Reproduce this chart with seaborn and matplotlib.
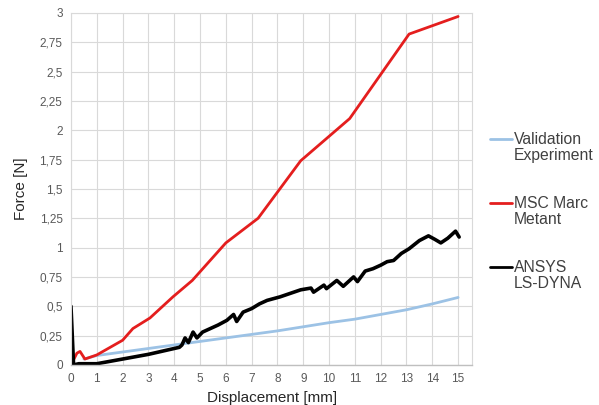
import pandas as pd
import matplotlib.pyplot as plt
import seaborn as sns
from matplotlib.legend_handler import HandlerLine2D

# Force-displacement curves
val_x = [0.5, 1, 2, 3, 4, 5, 6, 7, 8, 9, 10, 11, 12, 13, 14, 15]
val_y = [0.05, 0.08, 0.11, 0.14, 0.17, 0.2, 0.23, 0.26, 0.29, 0.325, 0.36, 0.39, 0.43, 0.47, 0.52, 0.575]

msc_x = [0, 0.23, 0.35, 0.54, 1.0, 2.0, 2.4, 3.06, 3.95, 4.7, 6.0, 7.25, 8.9, 10.8, 13.1, 15.0]
msc_y = [0, 0.1, 0.115, 0.05, 0.085, 0.21, 0.31, 0.4, 0.58, 0.72, 1.04, 1.25, 1.74, 2.1, 2.82, 2.97]

ansys_x = [0, 0.1, 0.3, 0.6, 1.0, 1.5, 2.0, 2.5, 3.0, 3.5, 4.0, 4.2, 4.3, 4.42, 4.55, 4.73,
           4.88, 5.1, 5.4, 5.7, 6.04, 6.3, 6.42, 6.67, 7.0, 7.3, 7.6, 8.1, 8.5, 8.9, 9.3,
           9.4, 9.8, 9.9, 10.3, 10.55, 10.95, 11.1, 11.4, 11.7, 12.0, 12.25, 12.5, 12.8,
           13.1, 13.5, 13.85, 14.1, 14.33, 14.6, 14.9, 15.04]
ansys_y = [0.5, 0.0, 0.01, 0.01, 0.01, 0.03, 0.05, 0.07, 0.09, 0.115, 0.14, 0.15, 0.17, 0.23,
           0.19, 0.28, 0.23, 0.28, 0.31, 0.34, 0.38, 0.43, 0.37, 0.45, 0.48, 0.52, 0.55, 0.58,
           0.61, 0.64, 0.655, 0.62, 0.68, 0.65, 0.72, 0.67, 0.75, 0.71, 0.8, 0.82, 0.85, 0.88,
           0.89, 0.95, 0.99, 1.06, 1.1, 1.07, 1.04, 1.08, 1.14, 1.09]

labels = ['Validation\nExperiment', 'MSC Marc\nMetant', 'ANSYS\nLS-DYNA']
colors = ['#9cc2e5', '#e41e1e', '#000000']
widths = [2.0, 2.0, 2.6]

x_ticks = list(range(0, 16))
y_ticks = [0, 0.25, 0.5, 0.75, 1, 1.25, 1.5, 1.75, 2, 2.25, 2.5, 2.75, 3]


# legend line next to the first line of a two-line label (Excel style)
class TopLine(HandlerLine2D):
    def create_artists(self, legend, orig_handle, xdescent, ydescent, width,
                       height, fontsize, trans):
        arts = super().create_artists(legend, orig_handle, xdescent, ydescent,
                                      width, height, fontsize, trans)
        for a in arts:
            a.set_ydata([y + 0.55 * fontsize for y in a.get_ydata()])
        return arts


df = pd.concat([
    pd.DataFrame({'x': val_x, 'y': val_y, 'series': labels[0]}),
    pd.DataFrame({'x': msc_x, 'y': msc_y, 'series': labels[1]}),
    pd.DataFrame({'x': ansys_x, 'y': ansys_y, 'series': labels[2]}),
])

sns.set_style('white')
plt.rcParams['font.family'] = ['Liberation Sans', 'DejaVu Sans']

fig = plt.figure(figsize=(5.99, 4.05), dpi=100)
ax = fig.add_axes([0.1185, 0.099, 0.67, 0.869])

sns.lineplot(data=df, x='x', y='y', hue='series', palette=dict(zip(labels, colors)),
             sort=False, estimator=None, ax=ax, legend=False)
for line, w in zip(ax.lines, widths):
    line.set_linewidth(w)
    line.set_solid_joinstyle('round')

ax.set_xlim(0, 15.55)
ax.set_ylim(0, 3)
ax.set_xticks(x_ticks)
ax.set_yticks(y_ticks)
ax.set_yticklabels([f'{v:g}'.replace('.', ',') for v in y_ticks])
ax.grid(True, color='#d9d9d9', linewidth=0.8)
ax.tick_params(axis='both', length=0, labelsize=8.5, labelcolor='#595959', pad=6)
for s in ['top', 'right', 'left']:
    ax.spines[s].set_color('#d9d9d9')
    ax.spines[s].set_linewidth(0.8)
ax.spines['bottom'].set_color('#bfbfbf')
ax.spines['bottom'].set_linewidth(1.0)

ax.set_xlabel('Displacement [mm]', fontsize=11, color='#262626', labelpad=4)
ax.set_ylabel('Force [N]', fontsize=11, color='#262626', labelpad=8)

handles = [plt.Line2D([], [], color=c, linewidth=2) for c in colors]
leg = fig.legend(handles, labels, loc='upper left', bbox_to_anchor=(0.818, 0.675),
                 frameon=False, fontsize=11.3, handlelength=1.4, handletextpad=0.1,
                 labelspacing=2.1, borderpad=0, borderaxespad=0, labelcolor='#404040',
                 handler_map={plt.Line2D: TopLine()})
for t in leg.get_texts():
    t.set_linespacing(1.1)

fig.savefig('out.png', dpi=100)
